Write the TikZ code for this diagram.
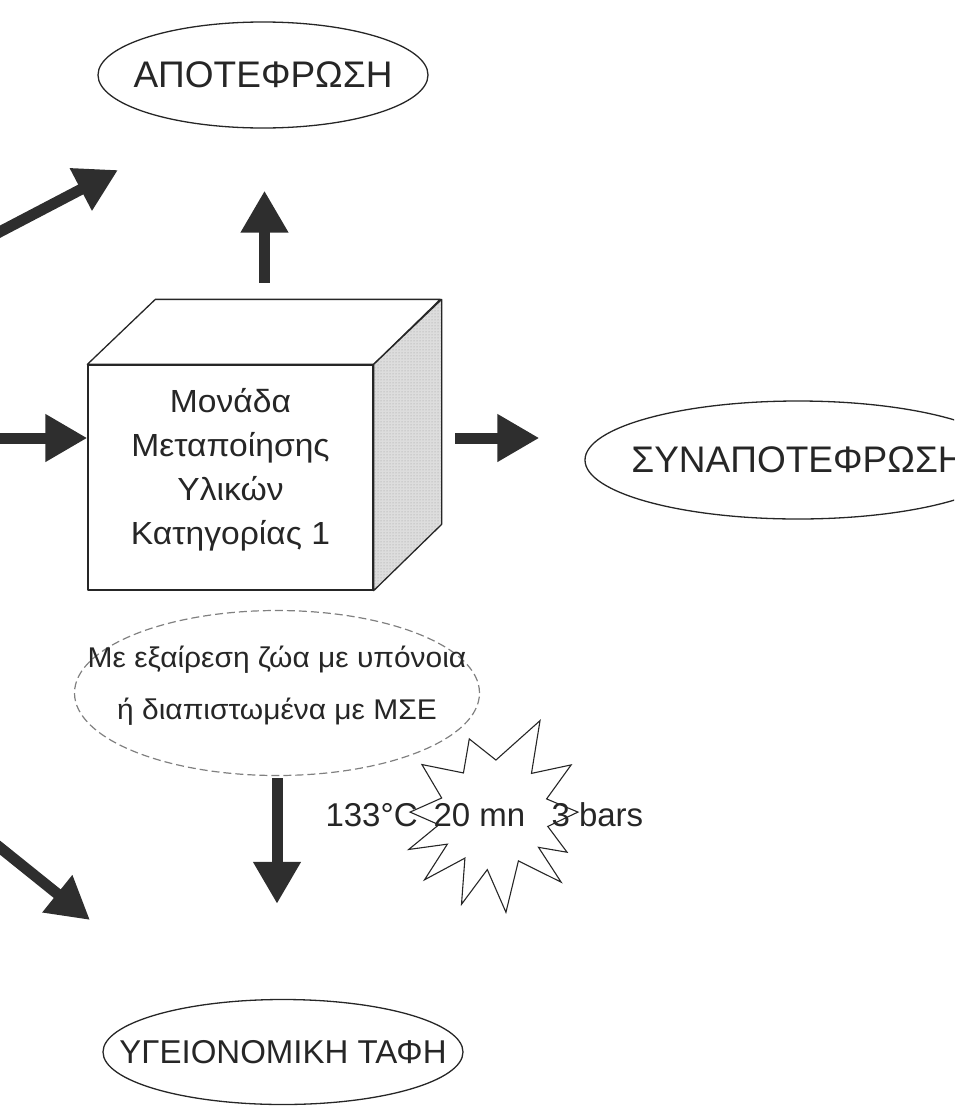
\documentclass[tikz,border=0pt]{standalone}
\usepackage{fontspec}
\setmainfont{Liberation Sans}
\newfontfamily\widefont[FakeStretch=1.05]{Liberation Sans}
\usepackage{tikz}
\usetikzlibrary{shapes,positioning,arrows.meta,patterns}
\definecolor{grey3}{HTML}{2E2E2E}
\definecolor{grey4}{HTML}{DDDDDD}
\definecolor{grey5}{HTML}{808080}
\tikzset{outcome/.style={ellipse,draw=black!85,line width=1.3pt,inner sep=0pt}}
\tikzset{bigtext/.style={color=black!85,font=\fontsize{37}{44}\selectfont}}
\tikzset{textbox/.style={draw=none,color=black!85,font=\fontsize{33}{40}\selectfont}}
\tikzset{boxtext/.style={color=black!85,align=center,font=\widefont\fontsize{32}{44}\selectfont}}
\tikzset{notetext/.style={color=black!85,align=center,font=\widefont\fontsize{28.5}{52}\selectfont}}
\tikzset{fatarrow/.style={draw=grey3,line width=11pt,-{Triangle[length=42pt,width=45pt]}}}
\tikzset{face/.style={draw=black!85,line width=1.3pt,line join=round}}
\tikzset{burstline/.style={draw=black!85,line width=1.1pt,line join=miter}}

\begin{document}
\begin{tikzpicture}[x=1pt,y=-1pt]
        \useasboundingbox (0,0) rectangle (954,1109);
        \clip (0,0) rectangle (954,1109);

        \node[outcome,minimum width=330pt,minimum height=106pt,label={[bigtext]center:ΑΠΟΤΕΦΡΩΣΗ}] (incin) at (263,75) {};
        \node[face,rectangle,minimum width=285pt,minimum height=225pt,inner sep=0pt,label={[boxtext,yshift=8pt]center:{Μονάδα\\Μεταποίησης\\Υλικών\\Κατηγορίας 1}}] (unit) at (230.5,477.5) {};
        \draw[face,fill=white] (unit.north west) -- ++(68,-65) -- ++(285,0) -- (unit.north east) -- cycle;
        \draw[face,preaction={fill=grey4},pattern=dots,pattern color=black!40] (unit.north east) -- ++(68,-65) -- ++(0,225) -- (unit.south east) -- cycle;
        \node[outcome,minimum width=426pt,minimum height=118pt,label={[bigtext]center:ΣΥΝΑΠΟΤΕΦΡΩΣΗ}] (coinc) at (798,460) {};
        \node[outcome,draw=grey5,line width=1.2pt,dash pattern=on 8pt off 4pt,minimum width=405pt,minimum height=165pt,label={[notetext,yshift=7pt]center:{Με εξαίρεση ζώα με υπόνοια\\ή διαπιστωμένα με ΜΣΕ}}] (excl) at (277,693) {};
        \node[outcome,minimum width=360pt,minimum height=105pt,label={[bigtext,font=\fontsize{33}{40}\selectfont]center:ΥΓΕΙΟΝΟΜΙΚΗ ΤΑΦΗ}] (burial) at (283,1052) {};

        \node[textbox,anchor=base west] (temp) at (322,826) {133°C};
        \node[textbox,anchor=base west] (time) at (430,826) {20 mn};
        \node[textbox,anchor=base west] (press) at (548,826) {3 bars};
        \coordinate (burst) at (494,815);
        \draw[burstline] ([shift={(358:84)}]burst)
            \foreach \a/\r in {12/55,27/82,36/55,45/95,62/52,83/98,97/55,110/95,124/52,137/95,148/55,158/92,170/56,182/84,198/55,215/88,234/52,252/80,272/55,296/105,312/56,327/92,343/55} {
                -- ([shift={(\a:\r)}]burst) } -- cycle;

        \coordinate (topface) at ([shift={(34,-32.5)}]unit.north);
        \coordinate (feed) at (-20,438);
        \coordinate (out) at (455,438);
        \coordinate (upper-in) at (-12,238);
        \coordinate (upper-out) at (118,170);
        \coordinate (lower-in) at (-12,838);
        \coordinate (lower-out) at (90,920);

        \draw[fatarrow,shorten <=49pt,shorten >=62pt] (topface) -- (topface |- incin.south);
        \draw[fatarrow] (feed) -- (feed -| unit.west);
        \draw[fatarrow,shorten >=45pt] (out) -- (out -| coinc.west);
        \draw[fatarrow,shorten <=2pt,shorten >=95pt] (excl.south) -- (excl.south |- burial.north);
        \draw[fatarrow] (upper-in) -- (upper-out);
        \draw[fatarrow] (lower-in) -- (lower-out);
    \end{tikzpicture}
\end{document}
